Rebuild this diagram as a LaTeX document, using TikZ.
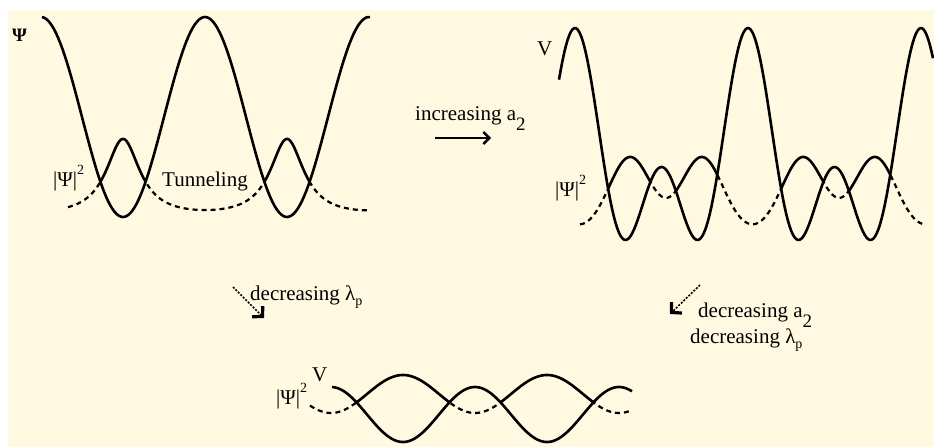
\documentclass[tikz,border=0pt]{standalone}
\usepackage{fontspec}
\setmainfont{Liberation Serif}
\usetikzlibrary{arrows.meta}
\definecolor{cream}{RGB}{255,249,226}
\begin{document}
\begin{tikzpicture}[x=1pt,y=-1pt,
  curve/.style={line width=2.6pt, line join=round},
  hidden/.style={line width=2.2pt, dash pattern=on 5pt off 4pt},
  lbl/.style={inner sep=0pt, anchor=base west, font=\fontsize{21}{24}\selectfont},
  dotarrow/.style={line width=1.6pt, dash pattern=on 2pt off 1.5pt,
     -{Straight Barb[length=7pt,width=15pt,line width=3.2pt]}},
  solidarrow/.style={line width=2.2pt, -{Straight Barb[length=6pt,width=12pt,line width=2.4pt]}},
]
\useasboundingbox (0,0) rectangle (934,447);
\fill[white] (0,0) rectangle (934,447);
\fill[cream] (8,10) rectangle (934,447);

% ---------- top-left plot ----------
\def\VL{117+100*cos(360/164*(\x-123))}
\def\PL{220.5-78.9*(1/(1+((\x+41)/20.6)^2)+1/(1+((\x-123)/20.6)^2)+1/(1+((\x-287)/20.6)^2)+1/(1+((\x-451)/20.6)^2))}
\begin{scope}
  \clip plot[domain=30:380,samples=160] (\x,{\VL}) -- (380,-20) -- (30,-20) -- cycle;
  \draw[curve] plot[domain=68:368,samples=160] (\x,{\PL});
\end{scope}
\begin{scope}
  \clip plot[domain=30:380,samples=160] (\x,{\VL}) -- (380,460) -- (30,460) -- cycle;
  \draw[hidden] plot[domain=68:368,samples=160] (\x,{\PL});
\end{scope}
\draw[curve] plot[domain=42:370,samples=160] (\x,{\VL});
\node[inner sep=0pt, anchor=base west, font=\fontsize{19}{19}\selectfont\bfseries] (psiTL) at (12,41) {Ψ};
\node[lbl] (psisqTL) at (53,186) {|Ψ|\raisebox{0.55em}{\fontsize{14}{14}\selectfont 2}};
\node[lbl] (tunnel) at (162,186) {Tunneling};

% ---------- top-right plot ----------
\def\VR{28+69.5*(1.96-cos(360/173*(\x-575))-0.96*cos(720/173*(\x-575)))}
\def\PR{232.7-75.5*(exp(max(-9,0-((\x-529)/29.7)^2))+exp(max(-9,0-((\x-630)/29.7)^2))+exp(max(-9,0-((\x-702)/29.7)^2))+exp(max(-9,0-((\x-803)/29.7)^2))+exp(max(-9,0-((\x-875)/29.7)^2))+exp(max(-9,0-((\x-976)/29.7)^2)))}
\begin{scope}
  \clip plot[domain=550:934,samples=220] (\x,{\VR}) -- (934,-20) -- (550,-20) -- cycle;
  \draw[curve] plot[domain=580:926,samples=220] (\x,{\PR});
\end{scope}
\begin{scope}
  \clip plot[domain=550:934,samples=220] (\x,{\VR}) -- (934,460) -- (550,460) -- cycle;
  \draw[hidden] plot[domain=580:926,samples=220] (\x,{\PR});
\end{scope}
\draw[curve] plot[domain=559:933,samples=220] (\x,{\VR});
\node[lbl] (VTR) at (537,55) {V};
\node[lbl] (psisqTR) at (555,196) {|Ψ|\raisebox{0.55em}{\fontsize{14}{14}\selectfont 2}};

% ---------- bottom plot ----------
\def\VB{414.5+27.5*cos(2.5*(\x-403))}
\def\PB{394-19*cos(2.5*(\x-403))}
\begin{scope}
  \clip plot[domain=300:640,samples=150] (\x,{\VB}) -- (640,300) -- (300,300) -- cycle;
  \draw[curve] plot[domain=310:632,samples=150] (\x,{\PB});
\end{scope}
\begin{scope}
  \clip plot[domain=300:640,samples=150] (\x,{\VB}) -- (640,460) -- (300,460) -- cycle;
  \draw[hidden] plot[domain=310:632,samples=150] (\x,{\PB});
\end{scope}
\draw[curve] plot[domain=332:632,samples=150] (\x,{\VB});
\node[lbl] (VB) at (312,381) {V};
\node[lbl] (psisqB) at (276,404) {|Ψ|\raisebox{0.55em}{\fontsize{14}{14}\selectfont 2}};

% ---------- transitions ----------
\node[lbl] (inc) at (415,120) {increasing a\raisebox{-0.5em}{\fontsize{19}{19}\selectfont 2}};
\coordinate (incA) at (435,138);
\coordinate (incB) at (491,138);
\draw[solidarrow] (incA) -- (incB);

\node[lbl] (declam) at (250,300) {decreasing λ\raisebox{-0.25em}{\fontsize{14}{14}\selectfont p}};
\coordinate (dlA) at (233,287);
\coordinate (dlB) at (264,318);
\draw[dotarrow] (dlA) -- (dlB);

\node[lbl] (deca) at (698,317) {decreasing a\raisebox{-0.5em}{\fontsize{19}{19}\selectfont 2}};
\node[lbl] (declam2) at (690,343) {decreasing λ\raisebox{-0.25em}{\fontsize{14}{14}\selectfont p}};
\coordinate (daA) at (700,285);
\coordinate (daB) at (670,314);
\draw[dotarrow] (daA) -- (daB);
\end{tikzpicture}
\end{document}
